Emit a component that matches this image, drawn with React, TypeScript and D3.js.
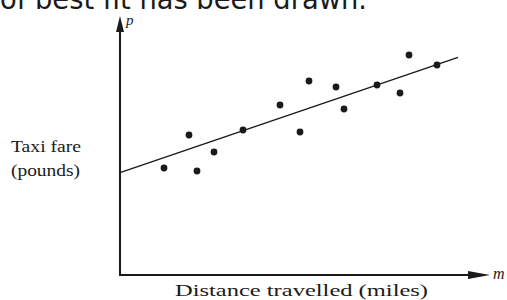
import React from "react";
import * as d3 from "d3";

// distance (miles) and fare (pounds)
const distance = [4.4, 6.9, 7.7, 9.4, 12.3, 16.0, 18.0, 18.9, 21.6, 22.4, 25.7, 28.0, 28.9, 31.7];
const fare = [10.7, 14.0, 10.4, 12.3, 14.5, 17.0, 14.3, 19.4, 18.8, 16.6, 19.0, 18.2, 22.0, 21.0];

// line of best fit: start / end
const fitX = [0, 33.8];
const fitY = [10.23, 21.77];

const W = 507;
const H = 300;

export default function App() {
  const x = d3.scaleLinear().domain([0, 37]).range([120, 490]);
  const y = d3.scaleLinear().domain([0, 25.9]).range([275, 16]);
  const ink = "#1a1a1a";
  const serif = "'Liberation Serif', 'Times New Roman', serif";

  const fit = d3
    .line<number>()
    .x((d) => x(d))
    .y((_, i) => y(fitY[i]));

  const x0 = x(0);
  const y0 = y(0);
  const xEnd = x(37);
  const yEnd = y(25.9);

  return (
    <svg
      width={W}
      height={H}
      style={{ position: "absolute", left: 0, top: 0, background: "#fff" }}
    >
      <text
        x={0}
        y={9}
        fontFamily="'DejaVu Sans', sans-serif"
        fontSize={28}
        textLength={367}
        lengthAdjust="spacingAndGlyphs"
        fill={ink}
      >
        of best fit has been drawn.
      </text>

      {/* axes */}
      <line x1={x0} y1={y0} x2={x0} y2={yEnd + 14} stroke={ink} strokeWidth={2} />
      <line x1={x0 - 1} y1={y0} x2={xEnd - 20} y2={y0} stroke={ink} strokeWidth={2} />
      <path d={`M${x0},${yEnd} L${x0 - 4},${yEnd + 16} L${x0 + 4},${yEnd + 16} Z`} fill={ink} />
      <path d={`M${xEnd},${y0} L${xEnd - 22},${y0 - 4} L${xEnd - 22},${y0 + 4} Z`} fill={ink} />

      <text x={x0 + 6} y={yEnd + 9} fontFamily={serif} fontStyle="italic" fontSize={15} fill={ink}>
        p
      </text>
      <text x={xEnd + 3} y={y0 + 4} fontFamily={serif} fontStyle="italic" fontSize={16} fill={ink}>
        m
      </text>

      <path d={fit(fitX) ?? ""} fill="none" stroke={ink} strokeWidth={1.4} />

      {distance.map((d, i) => (
        <circle key={i} cx={x(d)} cy={y(fare[i])} r={3.4} fill={ink} />
      ))}

      <g fontFamily={serif} fontSize={16} fill={ink}>
        <text x={11} y={152} textLength={70} lengthAdjust="spacingAndGlyphs">
          Taxi fare
        </text>
        <text x={11} y={176} textLength={69} lengthAdjust="spacingAndGlyphs">
          (pounds)
        </text>
        <text x={175} y={296} textLength={253} lengthAdjust="spacingAndGlyphs">
          Distance travelled (miles)
        </text>
      </g>
    </svg>
  );
}
